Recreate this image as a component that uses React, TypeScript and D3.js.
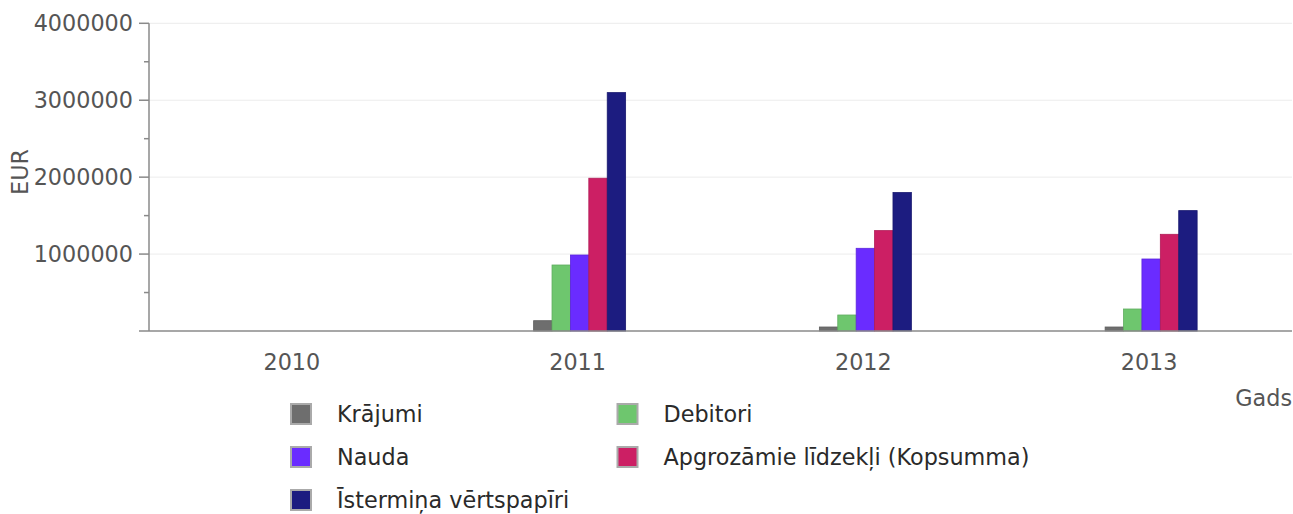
import React from "react";
import * as d3 from "d3";

const years = ["2010", "2011", "2012", "2013"];
const seriesNames = [
  "Krājumi",
  "Debitori",
  "Nauda",
  "Apgrozāmie līdzekļi (Kopsumma)",
  "Īstermiņa vērtspapīri",
];
const seriesColors = ["#6e6e6e", "#6ec66e", "#6a2cff", "#cc1f64", "#1c1c80"];

// values per series, one per year
const krajumi = [0, 134000, 52000, 52000];
const debitori = [0, 858000, 208000, 286000];
const nauda = [0, 988000, 1075000, 936000];
const kopsumma = [0, 1986000, 1305000, 1257000];
const vertspapiri = [0, 3099000, 1800000, 1565000];
const seriesValues = [krajumi, debitori, nauda, kopsumma, vertspapiri];

const yTicks = [1000000, 2000000, 3000000, 4000000];
const yMinor = [500000, 1500000, 2500000, 3500000];

const W = 1293;
const H = 514;
const font = "'DejaVu Sans', Verdana, sans-serif";
const fs = 22.3;

export default function App() {
  const x = d3.scaleBand().domain(years).range([149, 1292]);
  const y = d3.scaleLinear().domain([0, 4000000]).range([331, 23.3]);
  const inner = d3.scaleBand().domain(seriesNames).range([-44, 48]);

  const legend = seriesNames.map((name, i) => ({
    name,
    color: seriesColors[i],
    col: i % 2,
    row: Math.floor(i / 2),
  }));

  return (
    <svg
      width={W}
      height={H}
      style={{ position: "absolute", left: 0, top: 0, background: "#fff" }}
      fontFamily={font}
    >
      {/* grid */}
      {yTicks.map((t) => (
        <line key={"g" + t} x1={149} x2={1292} y1={y(t)} y2={y(t)} stroke="#ececec" strokeWidth={1} />
      ))}

      {/* bars */}
      {years.map((yr, yi) => (
        <g key={yr} transform={`translate(${x(yr)! + x.bandwidth() / 2},0)`}>
          {seriesNames.map((s, si) => {
            const v = seriesValues[si][yi];
            if (!v) return null;
            return (
              <rect
                key={s}
                x={inner(s)}
                y={y(v)}
                width={inner.bandwidth()}
                height={y(0) - y(v)}
                fill={seriesColors[si]}
                stroke={d3.color(seriesColors[si])!.darker(0.4).toString()}
                strokeWidth={0.8}
              />
            );
          })}
        </g>
      ))}

      {/* y axis */}
      <line x1={149} x2={149} y1={y(4000000)} y2={y(0)} stroke="#8a8a8a" strokeWidth={1.5} />
      {yTicks.map((t) => (
        <g key={"t" + t}>
          <line x1={139} x2={149} y1={y(t)} y2={y(t)} stroke="#8a8a8a" strokeWidth={1.5} />
          <text x={133} y={y(t) + 8} textAnchor="end" fontSize={fs} fill="#555">
            {t}
          </text>
        </g>
      ))}
      {yMinor.map((t) => (
        <line key={"m" + t} x1={144} x2={149} y1={y(t)} y2={y(t)} stroke="#8a8a8a" strokeWidth={1.5} />
      ))}
      <text
        transform={`translate(28,172) rotate(-90)`}
        textAnchor="middle"
        fontSize={fs}
        fill="#555"
      >
        EUR
      </text>

      {/* x axis */}
      <line x1={139} x2={1292} y1={y(0)} y2={y(0)} stroke="#8a8a8a" strokeWidth={1.5} />
      {years.map((yr) => (
        <text
          key={"x" + yr}
          x={x(yr)! + x.bandwidth() / 2}
          y={369.5}
          textAnchor="middle"
          fontSize={fs}
          fill="#555"
        >
          {yr}
        </text>
      ))}
      <text x={1292} y={405.5} textAnchor="end" fontSize={fs} fill="#555">
        Gads
      </text>

      {/* legend */}
      {legend.map((d) => {
        const lx = 290 + d.col * 326.5;
        const ly = 403 + d.row * 43;
        return (
          <g key={d.name}>
            <rect x={lx + 1} y={ly + 1} width={20} height={20} fill={d.color} stroke="#aaa" strokeWidth={2} />
            <text x={lx + 47} y={ly + 19} fontSize={fs} fill="#2a2a2a">
              {d.name}
            </text>
          </g>
        );
      })}
    </svg>
  );
}
